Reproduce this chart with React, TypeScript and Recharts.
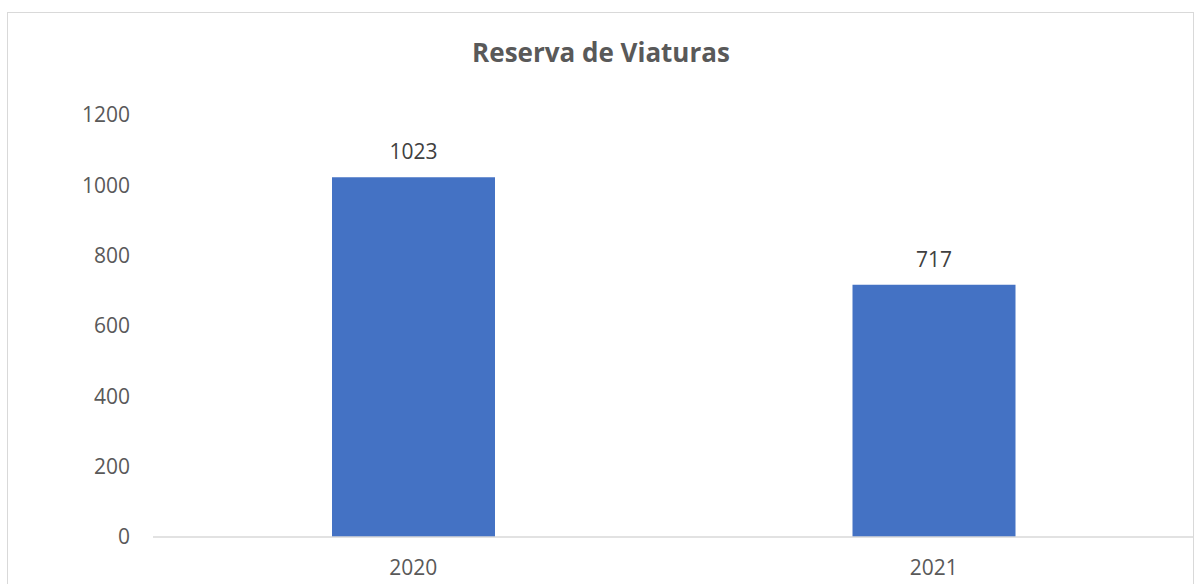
import { BarChart, Bar, XAxis, YAxis, LabelList } from 'recharts';

const years = ['2020', '2021'];
const reserva = [1023, 717];
const yTicks = [0, 200, 400, 600, 800, 1000, 1200];

const data = years.map((year, i) => ({ year, value: reserva[i] }));

const FONT = '"Open Sans", "Noto Sans", sans-serif';

export default function App() {
  return (
    <div style={{ position: 'absolute', left: 0, top: 0, width: 1194, height: 584, overflow: 'hidden', background: '#fff' }}>
      {/* chart frame */}
      <div
        style={{
          position: 'absolute',
          left: 7,
          top: 12,
          width: 1187,
          height: 700,
          border: '1px solid #d9d9d9',
          boxSizing: 'border-box',
        }}
      />
      <div
        style={{
          position: 'absolute',
          left: 8,
          width: 1186,
          top: 34,
          textAlign: 'center',
          fontFamily: FONT,
          fontWeight: 700,
          fontSize: 26,
          color: '#595959',
          lineHeight: '36px',
          letterSpacing: 0,
        }}
      >
        Reserva de Viaturas
      </div>
      <div style={{ position: 'absolute', left: 0, top: 0 }}>
        <BarChart
          width={1194}
          height={584}
          data={data}
          margin={{ top: 115, right: 0, bottom: 0, left: 93 }}
        >
          <XAxis
            dataKey="year"
            height={47}
            axisLine={{ stroke: '#d9d9d9', strokeWidth: 1.5 }}
            tickLine={false}
            tickSize={0}
            tickMargin={23}
            tick={{ fill: '#595959', fontSize: 21, fontFamily: FONT }}
          />
          <YAxis
            width={60}
            domain={[0, 1200]}
            ticks={yTicks}
            axisLine={false}
            tickLine={false}
            tickSize={0}
            tickMargin={23}
            tick={{ fill: '#595959', fontSize: 21, fontFamily: FONT }}
          />
          <Bar dataKey="value" fill="#4472C4" barSize={163} isAnimationActive={false}>
            <LabelList
              dataKey="value"
              position="top"
              offset={18}
              fill="#404040"
              fontSize={21}
              fontFamily={FONT}
            />
          </Bar>
        </BarChart>
      </div>
    </div>
  );
}
